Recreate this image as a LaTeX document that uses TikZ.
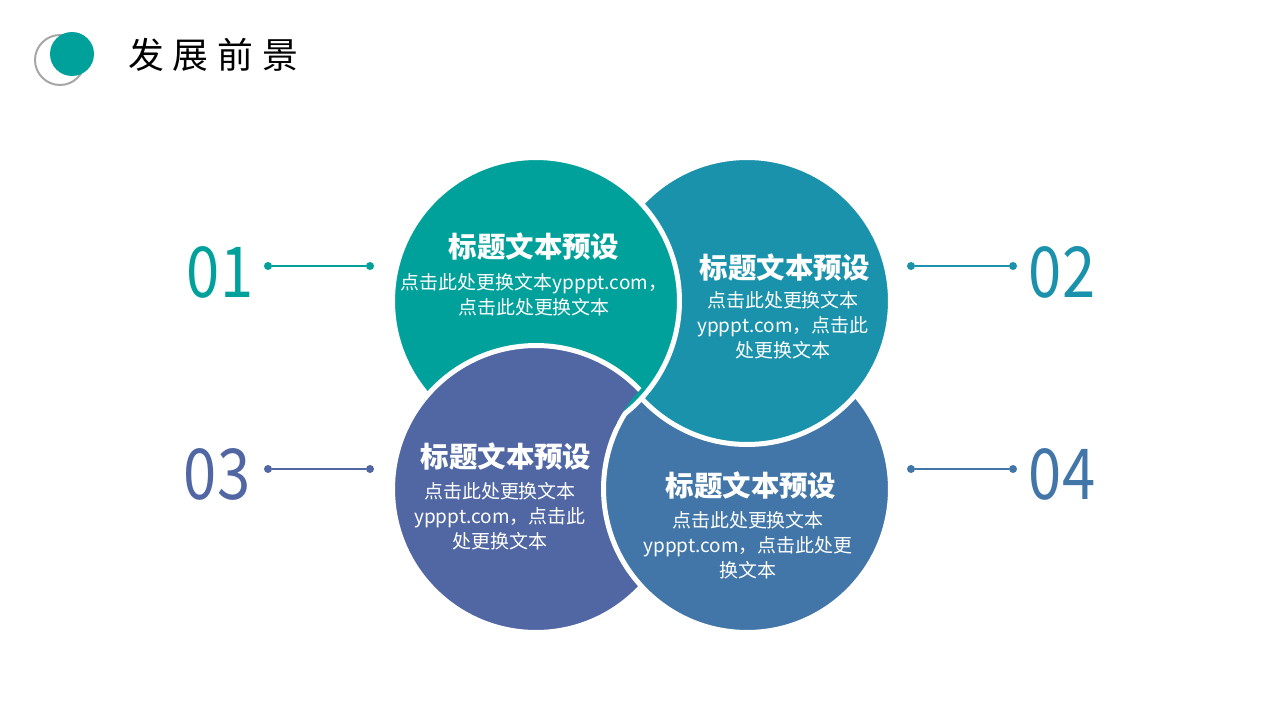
\documentclass[tikz,border=0pt]{standalone}
\usepackage{fontspec}
\setmainfont{Noto Sans CJK SC}
\newfontfamily\titlefont[LetterSpace=25]{Noto Sans CJK SC}
\newfontfamily\numfont[FakeStretch=0.85]{Noto Sans CJK SC}
\definecolor{cA}{RGB}{0,161,154}
\definecolor{cB}{RGB}{26,146,172}
\definecolor{cC}{RGB}{81,103,164}
\definecolor{cD}{RGB}{66,118,168}
\definecolor{ring}{RGB}{166,166,166}

\begin{document}
\begin{tikzpicture}[x=0.02cm,y=-0.02cm,
    blob/.style={circle,draw=white,line width=0.1cm,minimum size=5.74cm,inner sep=0pt},
    head/.style={text=white,font=\fontsize{16.2}{19}\selectfont\bfseries},
    body/.style={text=white,align=center,font=\fontsize{10.8}{14.2}\selectfont},
    num/.style={font=\numfont\fontsize{40}{40}\selectfont},
    dot/.style={circle,inner sep=0pt,minimum size=0.16cm},
    link/.style={line width=0.03cm}]
  \useasboundingbox (0,0) rectangle (1280,720);
  % title
  \node[circle,draw=ring,line width=0.04cm,minimum size=1cm,inner sep=0pt] (r0) at (60,60) {};
  \node[circle,fill=cA,minimum size=0.88cm,inner sep=0pt] (t0) at (72,54) {};
  \node[anchor=west,font=\titlefont\fontsize{20.4}{24}\selectfont] (title) at (122,55) {发展前景};
  % circles: 3 under 4 under 2 under 1, then 3 over 1
  \node[blob,fill=cC] (c3) at (536,489) {};
  \node[blob,fill=cD] (c4) at (747,489) {};
  \node[blob,fill=cB] (c2) at (747,301) {};
  \node[blob,fill=cA] (c1) at (536,301) {};
  \begin{scope}[even odd rule]
    \clip (c1.center) circle [radius=2.97cm];
    \clip (0,0) rectangle (1280,720) (c4.center) circle [radius=2.92cm];
    \node[blob,fill=cC] (c3b) at (c3.center) {};
  \end{scope}
  \node[head] (h1) at (534,247) {标题文本预设};
  \node[body] (b1) at (534,295) {点击此处更换文本ypppt.com，\\点击此处更换文本};
  \node[head] (h2) at (785,268) {标题文本预设};
  \node[body] (b2) at (783,325) {点击此处更换文本\\ypppt.com，点击此\\处更换文本};
  \node[head] (h3) at (506,457) {标题文本预设};
  \node[body] (b3) at (500,516) {点击此处更换文本\\ypppt.com，点击此\\处更换文本};
  \node[head] (h4) at (751,486) {标题文本预设};
  \node[body] (b4) at (748,545) {点击此处更换文本\\ypppt.com，点击此处更\\换文本};
  % numbers
  \node[num,text=cA] (n1) at (220,272) {01};
  \node[num,text=cB] (n2) at (1062,272) {02};
  \node[num,text=cC] (n3) at (217,474) {03};
  \node[num,text=cD] (n4) at (1062,474) {04};
  \node[dot,fill=cA] (p1a) at (268,266) {};
  \node[dot,fill=cA] (p1b) at (370,266) {};
  \node[dot,fill=cB] (p2a) at (911,266) {};
  \node[dot,fill=cB] (p2b) at (1013,266) {};
  \node[dot,fill=cC] (p3a) at (268,469) {};
  \node[dot,fill=cC] (p3b) at (370,469) {};
  \node[dot,fill=cD] (p4a) at (911,469) {};
  \node[dot,fill=cD] (p4b) at (1013,469) {};
  \draw[link,cA] (p1a) -- (p1b);
  \draw[link,cB] (p2a) -- (p2b);
  \draw[link,cC] (p3a) -- (p3b);
  \draw[link,cD] (p4a) -- (p4b);
\end{tikzpicture}
\end{document}
